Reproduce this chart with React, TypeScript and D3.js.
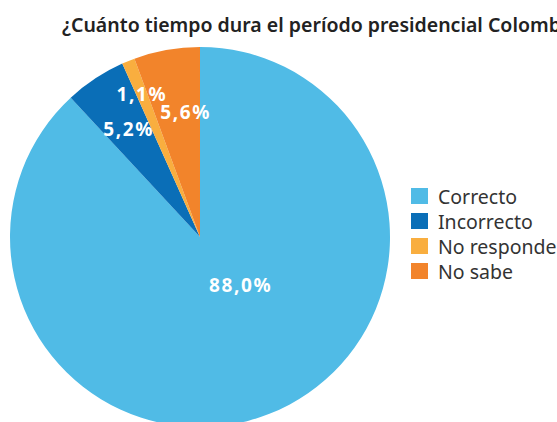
import React from "react";
import * as d3 from "d3";

const categories = ["Correcto", "Incorrecto", "No responde", "No sabe"];
const values = [88.0, 5.2, 1.1, 5.6];
const labels = ["88,0%", "5,2%", "1,1%", "5,6%"];
const colors = ["#50BBE6", "#0A6EB7", "#F9AE3F", "#F2842B"];
const title = "¿Cuánto tiempo dura el período presidencial Colombiano?";

export default function App() {
  const W = 557, H = 422;
  const cx = 200, cy = 237, r = 190;
  const pie = d3.pie<number>().sort(null).value((d) => d)(values);
  const arc = d3.arc<d3.PieArcDatum<number>>().innerRadius(0).outerRadius(r);
  // label placement: radius fraction and angular shift (degrees)
  const labelR = [0.33, 0.68, 0.81, 0.66];
  const labelShift = [-19, 0, 0, 3.5];
  const font = "'Noto Sans', 'Open Sans', sans-serif";
  return (
    <div style={{ position: "absolute", left: 0, top: 0 }}>
      <svg width={W} height={H} style={{ display: "block" }}>
        <rect width={W} height={H} fill="#fff" />
        <text x={62} y={32} fontFamily={font} fontWeight={600} fontSize={19.5} fill="#222">
          {title}
        </text>
        <g transform={`translate(${cx},${cy})`}>
          {pie.map((p, i) => (
            <path key={i} d={arc(p) || ""} fill={colors[i]} />
          ))}
          {pie.map((p, i) => {
            const a = (p.startAngle + p.endAngle) / 2 + (labelShift[i] * Math.PI) / 180;
            const lr = r * labelR[i];
            const x = Math.sin(a) * lr;
            const y = -Math.cos(a) * lr;
            return (
              <text key={i} x={x} y={y} textAnchor="middle" dominantBaseline="central"
                fontFamily={font} fontWeight={700} fontSize={19} letterSpacing={1.6} fill="#fff">
                {labels[i]}
              </text>
            );
          })}
        </g>
        <g transform="translate(411,188)">
          {categories.map((c, i) => (
            <g key={c} transform={`translate(0,${i * 25})`}>
              <rect width={17} height={16} fill={colors[i]} />
              <text x={27} y={8.5} dominantBaseline="central" fontFamily={font} fontSize={19.5} fill="#333">
                {c}
              </text>
            </g>
          ))}
        </g>
      </svg>
    </div>
  );
}
